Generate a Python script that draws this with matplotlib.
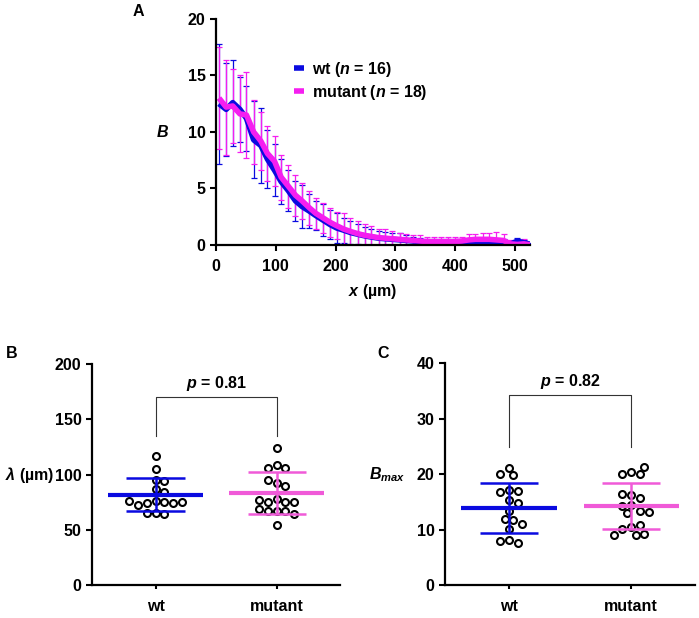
import matplotlib
matplotlib.use("Agg")
import matplotlib.pyplot as plt
import numpy as np

plt.rcParams['font.family'] = ['Liberation Sans', 'DejaVu Sans']
plt.rcParams['font.weight'] = 'bold'
plt.rcParams['axes.labelweight'] = 'bold'
plt.rcParams['mathtext.fontset'] = 'custom'
plt.rcParams['mathtext.rm'] = 'Liberation Sans:bold'
plt.rcParams['mathtext.it'] = 'Liberation Sans:italic:bold'
plt.rcParams['mathtext.bf'] = 'Liberation Sans:bold'

FS = 11.5

############################# data, panel A ######################################
x_um = [5, 17, 28, 40, 51, 63, 75, 86, 98, 109, 121, 133, 144, 156, 167, 179,
        191, 202, 214, 225, 237, 249, 260, 272, 283, 295, 307, 318, 330, 341,
        353, 365, 376, 388, 399, 411, 423, 434, 446, 457, 469, 481, 492, 504,
        515, 527]
wt_mean = [12.5, 12.0, 12.6, 12.0, 11.2, 9.3, 8.8, 7.6, 6.6, 5.6, 4.8, 3.9, 3.4,
           3.0, 2.6, 2.2, 1.8, 1.5, 1.3, 1.1, 0.95, 0.8, 0.7, 0.6, 0.55, 0.5,
           0.45, 0.4, 0.35, 0.3, 0.25, 0.2, 0.2, 0.2, 0.2, 0.2, 0.15, 0.1, 0.1,
           0.1, 0.1, 0.1, 0.05, 0.35, 0.2, 0.05]
wt_err = [5.3, 4.1, 3.8, 2.9, 2.9, 3.4, 3.3, 2.6, 2.3, 2.0, 1.8, 1.8, 1.9, 1.5,
          1.3, 1.4, 1.3, 1.3, 1.1, 1.0, 0.9, 0.8, 0.7, 0.65, 0.6, 0.6, 0.6,
          0.45, 0.4, 0.35, 0.3, 0.3, 0.3, 0.3, 0.3, 0.3, 0.3, 0.5, 0.4, 0.4,
          0.4, 0.4, 0.2, 0.3, 0.2, 0.1]
mut_mean = [13.0, 12.2, 12.3, 11.6, 11.5, 10.0, 9.2, 8.1, 7.4, 6.0, 5.2, 4.4,
            3.9, 3.3, 2.8, 2.4, 2.0, 1.7, 1.4, 1.2, 1.0, 0.85, 0.75, 0.65, 0.6,
            0.55, 0.5, 0.45, 0.4, 0.35, 0.3, 0.3, 0.3, 0.3, 0.3, 0.35, 0.45,
            0.5, 0.5, 0.5, 0.45, 0.4, 0.1, 0.05, 0.1, 0.0]
mut_err = [4.5, 4.2, 3.3, 3.4, 3.8, 2.8, 2.6, 2.4, 2.2, 2.0, 1.9, 1.8, 1.6, 1.5,
           1.4, 1.3, 1.3, 1.2, 1.4, 1.2, 1.1, 1.0, 0.9, 0.8, 0.8, 0.7, 0.6,
           0.55, 0.5, 0.5, 0.45, 0.4, 0.4, 0.4, 0.4, 0.4, 0.5, 0.5, 0.55, 0.6,
           0.7, 0.6, 0.3, 0.2, 0.4, 0.1]

############################# data, panels B and C ######################################
groups = ['wt', 'mutant']
lam_wt = [117, 105, 95, 94, 87, 84, 76, 75.5, 74.6, 74.6, 72.5, 75.5, 76.4,
          65.6, 64.4, 65.6]
lam_mut = [124, 109, 106, 106, 92, 90, 95, 78, 75.5, 75, 75.5, 77, 67, 67, 67,
           69, 64, 54]
lam_mean = [81.6, 83.0]
lam_sd = [15.0, 19.0]

bmax_wt = [21.1, 19.8, 20.1, 17.1, 17.0, 16.8, 15.3, 14.8, 13.3, 11.8, 12.0,
           11.1, 10.1, 8.2, 7.6, 8.0]
bmax_mut = [20.5, 20.1, 20.1, 21.4, 16.2, 15.8, 16.5, 14.4, 14.3, 13.4, 13.0,
            13.2, 10.5, 10.8, 10.1, 9.3, 9.0, 9.0]
bmax_mean = [13.9, 14.3]
bmax_sd = [4.45, 4.15]

p_lam = 0.81
p_bmax = 0.82

blue = '#0a0ae0'
magenta = '#f51ef0'
pink = '#f05ad8'

fig = plt.figure(figsize=(6.99, 6.18), dpi=100)


def style_axes(ax):
    for s in ['top', 'right']:
        ax.spines[s].set_visible(False)
    for s in ['left', 'bottom']:
        ax.spines[s].set_linewidth(1.6)
    ax.tick_params(width=1.5, length=4, labelsize=FS, direction='out')
    for lab in ax.get_xticklabels() + ax.get_yticklabels():
        lab.set_fontweight('bold')


def swarm(vals, ax, step_px=4.4, diam_px=8.4):
    # simple beeswarm: put each point at smallest offset that doesn't overlap
    fig.canvas.draw()
    trans = ax.transData
    p0 = trans.transform((0, 0))
    px_x = trans.transform((1, 0))[0] - p0[0]
    px_y = trans.transform((0, 1))[1] - p0[1]
    placed = []
    offs = []
    for v in vals:
        for k in [0, 1, -1, 2, -2, 3, -3, 4, -4, 5, -5, 6, -6, 7, -7, 8, -8]:
            o = k * step_px
            ok = True
            for po, pv in placed:
                if np.hypot(o - po, (v - pv) * px_y) < diam_px:
                    ok = False
                    break
            if ok:
                break
        placed.append((o, v))
        offs.append(o / px_x)
    return np.array(offs)


############################# panel A ######################################
axA = fig.add_axes([0.309, 0.6036, 0.449, 0.3657])
axA.errorbar(x_um, wt_mean, yerr=wt_err, fmt='none', ecolor=blue, elinewidth=0.9,
             capsize=2.5, capthick=0.9)
axA.errorbar(x_um, mut_mean, yerr=mut_err, fmt='none', ecolor=magenta, elinewidth=0.9,
             capsize=2.5, capthick=0.9)
axA.plot(x_um, wt_mean, color=blue, lw=4, label='wt ($n$ = 16)', solid_capstyle='butt')
axA.plot(x_um, mut_mean, color=magenta, lw=4, label='mutant ($n$ = 18)', solid_capstyle='butt')
axA.set_xlim(0, 525)
axA.set_ylim(0, 20)
axA.set_xticks([0, 100, 200, 300, 400, 500])
axA.set_yticks([0, 5, 10, 15, 20])
axA.set_xlabel('$x$ (µm)', fontsize=FS, labelpad=6)
axA.set_ylabel('$B$', fontsize=FS, rotation=0, va='center', ha='center')
axA.yaxis.set_label_coords(-0.172, 0.5)
style_axes(axA)
axA.tick_params(axis='x', pad=6)
axA.legend(loc='upper left', bbox_to_anchor=(0.25, 0.82), frameon=False,
           handlelength=0.6, handletextpad=0.5, borderaxespad=0, borderpad=0,
           labelspacing=0.25, prop={'size': FS, 'weight': 'bold'})
fig.text(138 / 699, 1 - 12 / 618, 'A', fontsize=FS, fontweight='bold', ha='center', va='center')


############################# panels B and C ######################################
def dot_panel(rect, vals_wt, vals_mut, means, sds, ylim, yticks, ylabel, lab_x,
              p, bracket_top, bracket_low, p_y):
    ax = fig.add_axes(rect)
    ax.set_xlim(-0.525, 1.525)
    ax.set_ylim(*ylim)
    ax.set_yticks(yticks)
    ax.set_xticks([0, 1])
    ax.set_xticklabels(groups)
    style_axes(ax)
    ax.tick_params(axis='x', length=3, pad=7)
    cols = [blue, pink]
    for i, vals in enumerate([vals_wt, vals_mut]):
        offs = swarm(vals, ax)
        ax.plot(i + offs, vals, 'o', ms=5.0, mfc='none', mec='black', mew=1.5,
                clip_on=False, zorder=2)
        ax.hlines(means[i], i - 0.39, i + 0.39, color=cols[i], lw=3, zorder=3)
        ax.hlines([means[i] - sds[i], means[i] + sds[i]], i - 0.24, i + 0.24,
                  color=cols[i], lw=1.8, zorder=3)
        ax.vlines(i, means[i] - sds[i], means[i] + sds[i], color=cols[i], lw=1.8, zorder=3)
    ax.plot([0, 0, 1, 1], [bracket_low, bracket_top, bracket_top, bracket_low],
            color='#333333', lw=0.8)
    ax.text(0.5, p_y, '$p$ = %.2f' % p, ha='center', va='center', fontsize=FS,
            fontweight='bold')
    ax.set_ylabel(ylabel, fontsize=FS, rotation=0, va='center', ha='center')
    ax.yaxis.set_label_coords(lab_x, 0.5)
    return ax


axB = dot_panel([0.1316, 0.0534, 0.355, 0.3576], lam_wt, lam_mut, lam_mean, lam_sd,
                (0, 200), [0, 50, 100, 150, 200], r'$\lambda$ (µm)', -0.252,
                p_lam, 170, 134.5, 182)
axC = dot_panel([0.6366, 0.053, 0.358, 0.359], bmax_wt, bmax_mut, bmax_mean, bmax_sd,
                (0, 40), [0, 10, 20, 30, 40], '$B_{max}$', -0.232,
                p_bmax, 34.3, 24.9, 36.7)
fig.text(12 / 699, 1 - 353 / 618, 'B', fontsize=FS, fontweight='bold', ha='center', va='center')
fig.text(383 / 699, 1 - 353 / 618, 'C', fontsize=FS, fontweight='bold', ha='center', va='center')

fig.savefig('out.png', dpi=100)
